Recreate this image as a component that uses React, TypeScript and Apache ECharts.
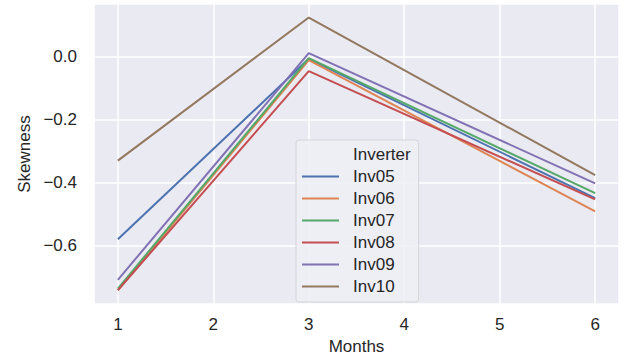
import React, { useEffect, useRef } from "react";
import * as echarts from "echarts";

const months = [1, 3, 6];
const seriesNames = ["Inv05", "Inv06", "Inv07", "Inv08", "Inv09", "Inv10"];
const inv05 = [-0.58, -0.008, -0.45];
const inv06 = [-0.742, -0.012, -0.492];
const inv07 = [-0.737, -0.006, -0.434];
const inv08 = [-0.742, -0.047, -0.454];
const inv09 = [-0.709, 0.01, -0.403];
const inv10 = [-0.331, 0.123, -0.377];
const seriesValues = [inv05, inv06, inv07, inv08, inv09, inv10];
const colors = ["#4c72b0", "#dd8452", "#55a868", "#c44e52", "#8172b3", "#937860"];
const legendTitle = "Inverter";

const FONT = "Liberation Sans, Arial, sans-serif";
const TEXT = "#262626";

export default function App() {
  const ref = useRef<HTMLDivElement>(null);
  useEffect(() => {
    if (!ref.current) return;
    const chart = echarts.init(ref.current, undefined, { renderer: "svg" });
    const fmt = (v: number) => {
      const r = Math.round(v * 10) / 10;
      if (Math.abs(v - r) > 1e-6) return "";
      return r.toFixed(1).replace("-", "\u2212");
    };
    const series: any[] = [
      {
        name: legendTitle,
        type: "line",
        data: [],
        symbol: "none",
        lineStyle: { color: "rgba(0,0,0,0)", width: 2 },
        itemStyle: { color: "rgba(0,0,0,0)" },
      },
    ];
    seriesNames.forEach((n, i) => {
      series.push({
        name: n,
        type: "line",
        data: months.map((m, j) => [m, seriesValues[i][j]]),
        symbol: "none",
        lineStyle: { color: colors[i], width: 2 },
        itemStyle: { color: colors[i] },
      });
    });
    chart.setOption({
      animation: false,
      backgroundColor: "#ffffff",
      textStyle: { fontFamily: FONT },
      grid: { left: 94, right: 6, top: 4, bottom: 52, backgroundColor: "#eaeaf2", show: true, borderWidth: 0 },
      xAxis: {
        type: "value",
        min: 0.75,
        max: 6.25,
        name: "Months",
        nameLocation: "middle",
        nameGap: 32,
        nameTextStyle: { fontSize: 17, color: TEXT, fontFamily: FONT },
        axisLine: { show: false },
        axisTick: { show: false },
        splitLine: { show: true, lineStyle: { color: "#ffffff", width: 1.5 } },
        axisLabel: {
          fontSize: 17,
          color: TEXT,
          fontFamily: FONT,
          margin: 12,
          showMinLabel: false,
          showMaxLabel: false,
          formatter: (v: number) => (Math.abs(v - Math.round(v)) < 1e-6 ? String(Math.round(v)) : ""),
        },
      },
      yAxis: {
        type: "value",
        min: -0.786,
        max: 0.166,
        name: "Skewness",
        nameLocation: "middle",
        nameGap: 58,
        nameRotate: 90,
        nameTextStyle: { fontSize: 17, color: TEXT, fontFamily: FONT },
        axisLine: { show: false },
        axisTick: { show: false },
        splitLine: { show: true, lineStyle: { color: "#ffffff", width: 1.5 } },
        axisLabel: {
          fontSize: 17,
          color: TEXT,
          fontFamily: FONT,
          margin: 17,
          showMinLabel: false,
          showMaxLabel: false,
          formatter: fmt,
        },
      },
      legend: {
        show: true,
        orient: "vertical",
        left: 296,
        top: 140,
        padding: [6, 8, 7, 6],
        icon: "rect",
        itemWidth: 37,
        itemHeight: 2,
        itemGap: 5,
        selectedMode: false,
        backgroundColor: "rgba(238,240,245,0.9)",
        borderColor: "#d4d4d8",
        borderWidth: 1,
        borderRadius: 3,
        data: [legendTitle, ...seriesNames],
        textStyle: { fontSize: 17, color: TEXT, fontFamily: FONT, lineHeight: 17, padding: [0, 0, 0, 9] },
      },
      series,
    });
    return () => chart.dispose();
  }, []);
  return (
    <div
      ref={ref}
      style={{ position: "absolute", left: 0, top: 0, width: 625, height: 360 }}
    />
  );
}
